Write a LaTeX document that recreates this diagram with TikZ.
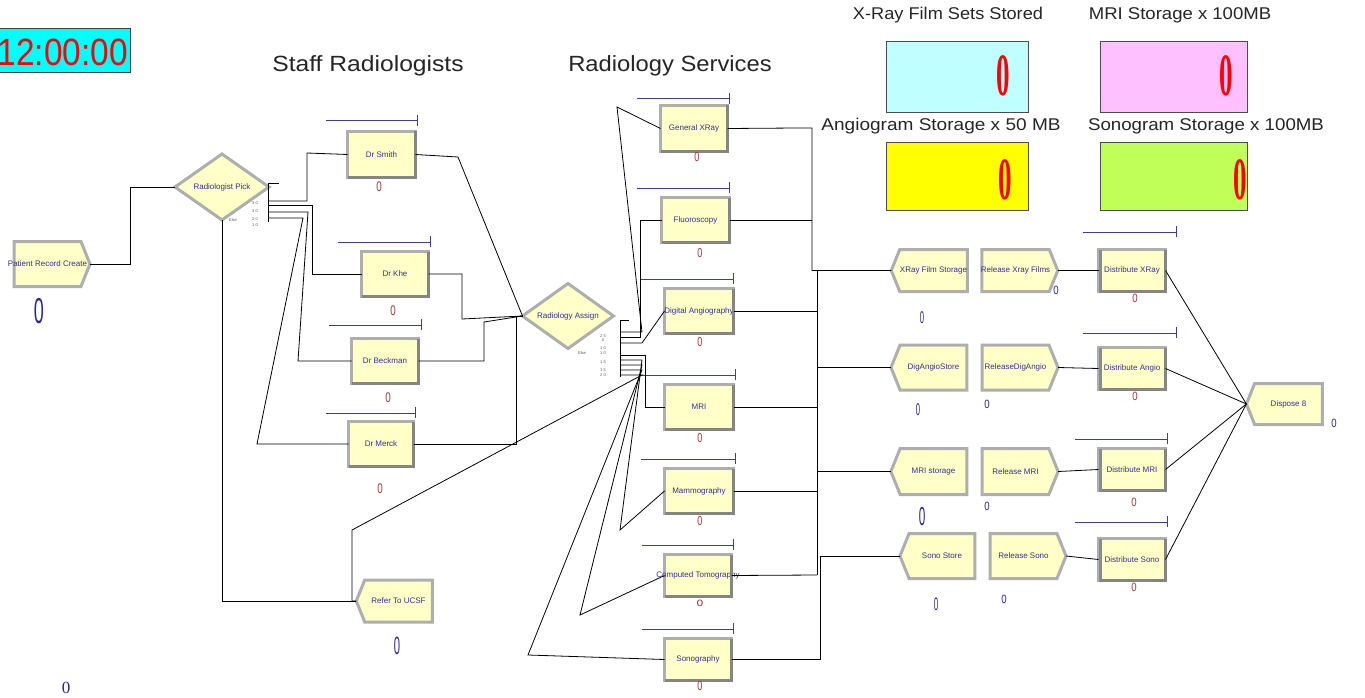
\documentclass[tikz,border=0pt]{standalone}
\usepackage{fontspec}
\usepackage{graphicx}
\setmainfont{Liberation Sans}
\newfontfamily\serifzero{Liberation Serif}
\usetikzlibrary{shapes.geometric,shapes.symbols}
\definecolor{modfill}{HTML}{FFFFC8}
\definecolor{modedge}{HTML}{AEAEAE}
\definecolor{moddark}{HTML}{858585}
\definecolor{navy}{HTML}{30309A}
\definecolor{zred}{HTML}{A83838}
\definecolor{zblue}{HTML}{2828A0}
\definecolor{barblue}{HTML}{3C3CA8}
\definecolor{dcyan}{HTML}{C0FFFF}
\definecolor{dpink}{HTML}{FFC0FF}
\definecolor{dyellow}{HTML}{FFFF00}
\definecolor{dgreen}{HTML}{C0FF58}
\definecolor{clockcyan}{HTML}{00FFFF}
\newcommand\sqz[2]{\scalebox{#1}[1]{#2}}
\begin{document}
\begin{tikzpicture}[x=1pt,y=-1pt,
  mod/.style={draw=modedge, line width=3pt, fill=modfill, inner sep=0pt, outer sep=0pt},
  lab/.style={text=navy, font=\fontsize{8}{8}\selectfont, inner sep=0pt},
  proc/.style={mod, rectangle, minimum width=67pt, minimum height=45pt},
  sigR/.style={mod, signal, signal to=east, signal pointer angle=136, minimum width=76pt, minimum height=45pt},
  sigL/.style={mod, signal, signal to=west, signal pointer angle=136, minimum width=76pt, minimum height=45pt},
  dec/.style={mod, diamond, aspect=1.4},
  conn/.style={draw=black, line width=0.8pt},
  bar/.style={draw=barblue, line width=1pt},
  tick/.style={font=\fontsize{4}{4}\selectfont, text=gray!70!black, inner sep=0pt},
  zr/.style={text=zred, font=\fontsize{14}{14}\selectfont, inner sep=0pt},
  zb/.style={text=zblue, inner sep=0pt},
  hdr/.style={text=black!85, inner sep=0pt},
  disp/.style={draw=gray!60!black, line width=1pt, inner sep=0pt},
  bigzero/.style={text=red, inner sep=0pt, font=\serifzero\bfseries\fontsize{60}{60}\selectfont}
]
\useasboundingbox (0,0) rectangle (1365,698);
\clip (0,0) rectangle (1365,698);
\fill[white] (0,0) rectangle (1365,698);

% clock
\node[draw=gray!50!black, line width=1pt, fill=clockcyan, minimum width=132pt, minimum height=44pt, inner sep=0pt] (clock) at (64,51) {};
\node[text=red, inner sep=0pt, anchor=east, font=\fontsize{38}{38}\selectfont] (clocktext) at (128,52) {\sqz{0.88}{12:00:00}};

% headers
\node[hdr, font=\fontsize{22}{22}\selectfont] (hstaff) at (368,66) {\sqz{1.12}{Staff Radiologists}};
\node[hdr, font=\fontsize{22}{22}\selectfont] (hserv) at (670,66) {\sqz{1.08}{Radiology Services}};
\node[hdr, font=\fontsize{17}{17}\selectfont] (hx) at (948,15) {\sqz{1.07}{X-Ray Film Sets Stored}};
\node[hdr, font=\fontsize{17}{17}\selectfont] (hm) at (1180,15) {\sqz{1.09}{MRI Storage x 100MB}};
\node[hdr, font=\fontsize{17}{17}\selectfont] (ha) at (941,126) {\sqz{1.12}{Angiogram Storage x 50 MB}};
\node[hdr, font=\fontsize{17}{17}\selectfont] (hs) at (1206,126) {\sqz{1.1}{Sonogram Storage x 100MB}};

% displays
\node[disp, fill=dcyan, minimum width=142pt, minimum height=71pt] (dispx) at (957.5,77.5) {};
\node[disp, fill=dpink, minimum width=147pt, minimum height=71pt] (dispm) at (1174,77.5) {};
\node[disp, fill=dyellow, minimum width=142pt, minimum height=67pt] (dispa) at (957.5,176.5) {};
\node[disp, fill=dgreen, minimum width=147pt, minimum height=67pt] (disps) at (1174,176.5) {};
\node[bigzero] (zx) at (1003,76) {\sqz{0.45}{0}};
\node[bigzero] (zm) at (1226,76) {\sqz{0.45}{0}};
\node[bigzero] (za) at (1005,180) {\sqz{0.45}{0}};
\node[bigzero] (zs) at (1240,180) {\sqz{0.45}{0}};

% ---------- modules ----------
\node[sigR, minimum width=76pt, minimum height=45pt, label={[lab]center:Patient Record Create}] (create) at (47.5,264) {};
\node[dec, minimum width=94pt, minimum height=66pt, label={[lab]center:Radiologist Pick}] (pick) at (222,187) {};

\node[proc, minimum width=68pt, minimum height=46pt, label={[lab]center:Dr Smith}] (smith) at (381.5,154.5) {};
\node[proc, minimum width=67pt, minimum height=45pt, label={[lab]center:Dr Khe}] (khe) at (395,274) {};
\node[proc, minimum width=67pt, minimum height=45pt, label={[lab]center:Dr Beckman}] (beck) at (385,361) {};
\node[proc, minimum width=65pt, minimum height=45pt, label={[lab]center:Dr Merck}] (merck) at (381,444) {};
\node[sigL, minimum width=76pt, minimum height=42pt, label={[lab]center:Refer To UCSF}] (refer) at (398.5,601) {};

\node[dec, minimum width=91pt, minimum height=65pt, label={[lab]center:Radiology Assign}] (assign) at (568,316) {};

\node[proc, minimum width=67pt, minimum height=46pt, label={[lab]center:General XRay}] (genx) at (694,128.5) {};
\node[proc, minimum width=68pt, minimum height=45pt, label={[lab]center:Fluoroscopy}] (fluoro) at (695.5,220) {};
\node[proc, minimum width=69pt, minimum height=45pt, label={[lab]center:Digital Angiography}] (dang) at (699,311) {};
\node[proc, minimum width=69pt, minimum height=45pt, label={[lab]center:MRI}] (mri) at (699,407) {};
\node[proc, minimum width=69pt, minimum height=45pt, label={[lab]center:Mammography}] (mammo) at (699,491) {};
\node[proc, minimum width=67pt, minimum height=42pt, label={[lab]center:Computed Tomography}] (ct) at (698,575.5) {};
\node[proc, minimum width=67pt, minimum height=42pt, label={[lab]center:Sonography}] (sono) at (698,659.5) {};

\node[sigL, minimum width=76pt, minimum height=42pt, label={[lab]center:XRay Film Storage}] (xstore) at (933.5,270.5) {};
\node[sigR, minimum width=76pt, minimum height=42pt, label={[lab]center:Release Xray Films}] (xrel) at (1015.5,270.5) {};
\node[sigL, minimum width=76pt, minimum height=45pt, label={[lab]center:DigAngioStore}] (astore) at (933.5,367.5) {};
\node[sigR, minimum width=76pt, minimum height=45pt, label={[lab]center:ReleaseDigAngio}] (arel) at (1015.5,367.5) {};
\node[sigL, minimum width=76pt, minimum height=46pt, label={[lab]center:MRI storage}] (mstore) at (933.5,471.5) {};
\node[sigR, minimum width=76pt, minimum height=46pt, label={[lab]center:Release MRI}] (mrel) at (1015.5,471.5) {};
\node[sigL, minimum width=75pt, minimum height=45pt, label={[lab]center:Sono Store}] (sstore) at (942,556) {};
\node[sigR, minimum width=76pt, minimum height=45pt, label={[lab]center:Release Sono}] (srel) at (1023.5,556) {};

\node[proc, minimum width=67pt, minimum height=42pt, label={[lab]center:Distribute XRay}] (dx) at (1132,270.5) {};
\node[proc, minimum width=67pt, minimum height=42pt, label={[lab]center:Distribute Angio}] (da) at (1132,368.5) {};
\node[proc, minimum width=67pt, minimum height=42pt, label={[lab]center:Distribute MRI}] (dm) at (1132,469.5) {};
\node[proc, minimum width=67pt, minimum height=42pt, label={[lab]center:Distribute Sono}] (ds) at (1132,559.5) {};
\node[sigL, minimum width=76pt, minimum height=41pt, label={[lab]center:Dispose 8}] (dispose) at (1288.5,404) {};

% bevel shading on rectangles
\foreach \n in {smith,khe,beck,merck,genx,fluoro,dang,mri,mammo,ct,sono,dx,da,dm,ds}{
  \draw[moddark, line width=3pt] (\n.south west) -- (\n.south east) -- (\n.north east);
}
\foreach \n in {dx,da,dm,ds}{
  \draw[modedge!80!black, line width=3pt] ([xshift=2pt]\n.south west) -- ([xshift=2pt]\n.north west);
}

% resource bars
\foreach \xa/\xb/\yy in {326/417/121, 338/430/242, 329/421/325, 326/415/413,
  637/729/99, 637/729/188, 641/733/279, 641/735/375, 641/735/459, 642/733/545, 642/733/629,
  1083/1176/232, 1083/1176/333, 1075/1167/439, 1075/1167/522}{
  \draw[bar] (\xa,\yy) -- (\xb,\yy);
  \draw[bar] (\xb,\yy-6) -- (\xb,\yy+5);
}

% decide brackets
\draw[conn] (268,183) -- (268,222);
\draw[conn] (268,183) -- (279,183);
\draw[conn] (620,320) -- (620,377);
\draw[conn] (620,320) -- (629,320);

% tiny condition labels
\node[tick] (p1) at (255,203) {3 0};
\node[tick] (p2) at (255,211) {3 0};
\node[tick] (p3) at (233,220) {Else};
\node[tick] (p4) at (255,219) {2 0};
\node[tick] (p5) at (255,225) {1 0};
\node[tick] (q1) at (603,336) {2 5};
\node[tick] (q2) at (603,340) {0};
\node[tick] (q3) at (603,348) {1 0};
\node[tick] (q4) at (603,353) {1 0};
\node[tick] (q5) at (582,353) {Else};
\node[tick] (q6) at (603,362) {1 5};
\node[tick] (q7) at (603,370) {1 5};
\node[tick] (q8) at (603,375) {2 0};

% ---------- connectors ----------
\draw[conn] (create.east) -- (130,264) -- (130,187) -- (pick.west);
\draw[conn] (268,201) -- (307,201) -- (307,153) -- (smith.west);
\draw[conn] (268,205) -- (312,205) -- (312,274) -- (khe.west);
\draw[conn] (268,212) -- (308,212) -- (298,361) -- (beck.west);
\draw[conn] (268,218) -- (303,218) -- (257,444) -- (merck.west);
\draw[conn] (pick.south) -- (pick.south |- refer.west) -- (refer.west);

\draw[conn] (smith.east) -- (458,157) -- (assign.west);
\draw[conn] (khe.east) -- (462,274) -- (462,319) -- (assign.west);
\draw[conn] (beck.east) -- (484,361) -- (484,322) -- (assign.west);
\draw[conn] (merck.east) -- (516,444) -- (516,316) -- (assign.west);

\draw[conn] (620,332) -- (642,332) -- (617,107) -- (genx.west);
\draw[conn] (620,337) -- (640,337) -- (640,220) -- (fluoro.west);
\draw[conn] (620,343) -- (642,343) -- (dang.west);
\draw[conn] (620,355) -- (645,355) -- (645,407) -- (mri.west);
\draw[conn] (620,360) -- (642,360) -- (620,530) -- (mammo.west);
\draw[conn] (620,365) -- (642,365) -- (580,615) -- (ct.west);
\draw[conn] (620,370) -- (642,370) -- (528,655) -- (sono.west);
\draw[conn] (620,375) -- (642,375) -- (352,530) -- (352,601) -- (refer.west);

\draw[conn] (genx.east) -- (797,128) -- (812,128) -- (812,270.5) -- (xstore.west);
\draw[conn] (fluoro.east) -- (812,220);
\draw[conn] (dang.east) -- (817,311) -- (817,575);
\draw[conn] (812,270.5) -- (817,270.5) -- (817,311);
\draw[conn] (mri.east) -- (817,407);
\draw[conn] (mammo.east) -- (817,491);
\draw[conn] (ct.east) -- (817,575);
\draw[conn] (817,367.5) -- (astore.west);
\draw[conn] (817,471.5) -- (mstore.west);
\draw[conn] (sono.east) -- (820,659.5) -- (820,556) -- (sstore.west);

\draw[conn] (xrel.east) -- (dx.west);
\draw[conn] (arel.east) -- (da.west);
\draw[conn] (mrel.east) -- (dm.west);
\draw[conn] (srel.east) -- (ds.west);

\draw[conn] (dx.east) -- (dispose.west);
\draw[conn] (da.east) -- (dispose.west);
\draw[conn] (dm.east) -- (dispose.west);
\draw[conn] (ds.east) -- (dispose.west);

% ---------- counters ----------
\node[zb, font=\fontsize{36}{36}\selectfont] (zcreate) at (39,311) {\sqz{0.5}{0}};
\node[zr] (zsmith) at (379,187) {\sqz{0.7}{0}};
\node[zr] (zkhe) at (393,311) {\sqz{0.7}{0}};
\node[zr] (zbeck) at (388,398) {\sqz{0.7}{0}};
\node[zr] (zmerck) at (380,489) {\sqz{0.7}{0}};
\node[zb, font=\fontsize{25}{25}\selectfont] (zrefer) at (397,646) {\sqz{0.45}{0}};
\node[zr, font=\fontsize{13}{13}\selectfont] (zgenx) at (697,157) {\sqz{0.7}{0}};
\node[zr, font=\fontsize{13}{13}\selectfont] (zfluoro) at (700,253) {\sqz{0.7}{0}};
\node[zr, font=\fontsize{13}{13}\selectfont] (zdang) at (700,342) {\sqz{0.7}{0}};
\node[zr, font=\fontsize{13}{13}\selectfont] (zmri) at (700,438) {\sqz{0.7}{0}};
\node[zr, font=\fontsize{13}{13}\selectfont] (zmammo) at (700,521) {\sqz{0.7}{0}};
\node[zr, font=\fontsize{12}{12}\selectfont] (zct) at (700,603) {o};
\node[zr, font=\fontsize{13}{13}\selectfont] (zsono) at (700,686) {\sqz{0.7}{0}};

\node[zb, font=\fontsize{17}{17}\selectfont] (zxs) at (922,318) {\sqz{0.45}{0}};
\node[zb, font=\fontsize{12}{12}\selectfont] (zxr) at (1056,290) {\sqz{0.8}{0}};
\node[zb, font=\fontsize{17}{17}\selectfont] (zas) at (918,410) {\sqz{0.45}{0}};
\node[zb, font=\fontsize{12}{12}\selectfont] (zar) at (987,404) {\sqz{0.8}{0}};
\node[zb, font=\fontsize{26}{26}\selectfont] (zms) at (922,517) {\sqz{0.45}{0}};
\node[zb, font=\fontsize{12}{12}\selectfont] (zmr) at (987,506) {\sqz{0.8}{0}};
\node[zb, font=\fontsize{18}{18}\selectfont] (zss) at (936,604) {\sqz{0.45}{0}};
\node[zb, font=\fontsize{12}{12}\selectfont] (zsr) at (1004,599) {\sqz{0.8}{0}};

\node[zr, font=\fontsize{12}{12}\selectfont] (zdx) at (1135,298) {\sqz{0.8}{0}};
\node[zr, font=\fontsize{12}{12}\selectfont] (zda) at (1135,396) {\sqz{0.8}{0}};
\node[zr, font=\fontsize{12}{12}\selectfont] (zdm) at (1134,502) {\sqz{0.8}{0}};
\node[zr, font=\fontsize{12}{12}\selectfont] (zds) at (1134,587) {\sqz{0.8}{0}};
\node[zb, font=\fontsize{12}{12}\selectfont] (zdisp) at (1334,423) {\sqz{0.8}{0}};

\node[zb, font=\serifzero\fontsize{17}{17}\selectfont] (zbottom) at (66,688) {0};
\end{tikzpicture}
\end{document}
